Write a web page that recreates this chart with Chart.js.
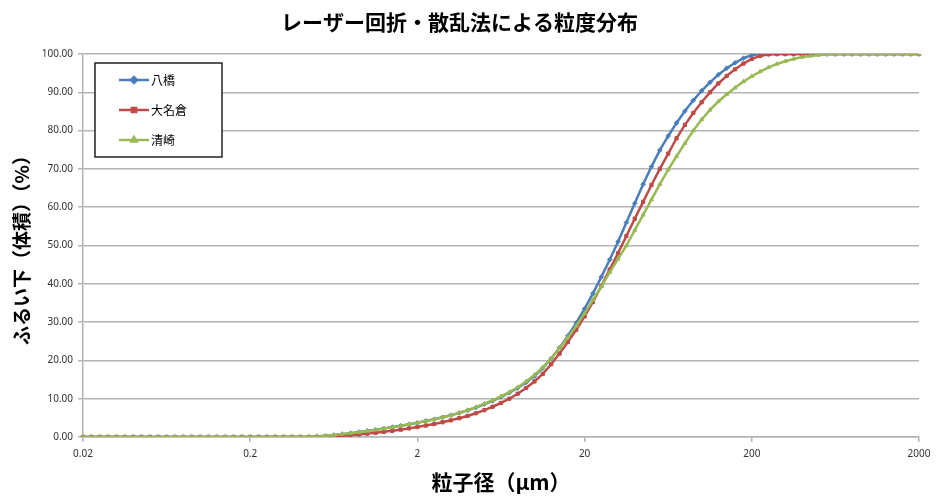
<!DOCTYPE html>
<html>
<head>
<meta charset="utf-8">
<script src="https://cdn.jsdelivr.net/npm/chart.js@4.4.1/dist/chart.umd.min.js"></script>
<style>
html, body { margin: 0; padding: 0; background: #fff; }
#wrap { width: 938px; height: 500px; }
</style>
</head>
<body>
<div id="wrap"><canvas id="chart"></canvas></div>
<script>
// particle size channels (µm), 20 per decade
const sizes = [
  0.02, 0.0224, 0.0252, 0.0283, 0.0317, 0.0356, 0.0399, 0.0448, 0.0502, 0.0564,
  0.0632, 0.0708, 0.0796, 0.0893, 0.1002, 0.1125, 0.1262, 0.1416, 0.1589, 0.1783,
  0.2, 0.224, 0.252, 0.283, 0.317, 0.356, 0.399, 0.448, 0.502, 0.564,
  0.632, 0.708, 0.796, 0.893, 1.002, 1.125, 1.262, 1.416, 1.589, 1.783,
  2, 2.24, 2.52, 2.83, 3.17, 3.56, 3.99, 4.48, 5.02, 5.64,
  6.32, 7.08, 7.96, 8.93, 10.02, 11.25, 12.62, 14.16, 15.89, 17.83,
  20, 22.4, 25.2, 28.3, 31.7, 35.6, 39.9, 44.8, 50.2, 56.4,
  63.2, 70.8, 79.6, 89.3, 100.2, 112.5, 126.2, 141.6, 158.9, 178.3,
  200, 224, 252, 283, 317, 356, 399, 448, 502, 564,
  632, 708, 796, 893, 1002, 1125, 1262, 1416, 1589, 1783,
  2000
];

const seriesNames = ['八橋', '大名倉', '清崎'];

const yatsuhashi = [
  0, 0, 0, 0, 0, 0, 0, 0, 0, 0,
  0, 0, 0, 0, 0, 0, 0, 0, 0, 0,
  0, 0, 0, 0, 0, 0, 0, 0.05, 0.15, 0.3,
  0.5, 0.75, 1.0, 1.3, 1.6, 1.9, 2.25, 2.6, 2.95, 3.35,
  3.75, 4.2, 4.65, 5.15, 5.7, 6.3, 6.95, 7.7, 8.55, 9.45,
  10.45, 11.55, 12.8, 14.25, 15.9, 18.0, 20.5, 23.3, 26.4, 29.8,
  33.5, 37.5, 41.8, 46.3, 51.0, 56.0, 61.0, 66.0, 70.6, 74.9,
  78.6, 82.0, 85.1, 87.9, 90.4, 92.6, 94.6, 96.3, 97.7, 98.9,
  99.7, 100, 100, 100, 100, 100, 100, 100, 100, 100,
  100, 100, 100, 100, 100, 100, 100, 100, 100, 100,
  100
];

const onagura = [
  0, 0, 0, 0, 0, 0, 0, 0, 0, 0,
  0, 0, 0, 0, 0, 0, 0, 0, 0, 0,
  0, 0, 0, 0, 0, 0, 0, 0, 0.05, 0.12,
  0.22, 0.35, 0.5, 0.68, 0.88, 1.1, 1.35, 1.62, 1.92, 2.25,
  2.6, 3.0, 3.4, 3.85, 4.35, 4.9, 5.5, 6.2, 7.0, 7.9,
  8.9, 10.0, 11.3, 12.8, 14.5, 16.5, 19.0, 21.8, 24.8, 28.0,
  31.5, 35.3, 39.4, 43.7, 48.0, 52.5, 57.0, 61.4, 65.8, 70.0,
  74.0, 78.0, 81.5, 84.6, 87.4, 90.0, 92.3, 94.3, 96.0, 97.5,
  98.7, 99.5, 99.9, 100, 100, 100, 100, 100, 100, 100,
  100, 100, 100, 100, 100, 100, 100, 100, 100, 100,
  100
];

const kiyosaki = [
  0, 0, 0, 0, 0, 0, 0, 0, 0, 0,
  0, 0, 0, 0, 0, 0, 0, 0, 0, 0,
  0, 0, 0, 0, 0, 0, 0, 0.05, 0.15, 0.3,
  0.5, 0.75, 1.0, 1.25, 1.55, 1.85, 2.2, 2.55, 2.9, 3.3,
  3.7, 4.15, 4.6, 5.1, 5.65, 6.3, 7.0, 7.8, 8.7, 9.6,
  10.6, 11.7, 13.0, 14.5, 16.2, 18.2, 20.5, 23.2, 26.0, 29.0,
  32.3, 35.8, 39.3, 43.0, 46.5, 50.0, 54.0, 58.0, 62.0, 66.0,
  69.8, 73.3, 76.7, 80.0, 82.9, 85.4, 87.6, 89.5, 91.2, 92.8,
  94.2, 95.4, 96.5, 97.4, 98.1, 98.7, 99.2, 99.5, 99.75, 99.9,
  100, 100, 100, 100, 100, 100, 100, 100, 100, 100,
  100
];

const xTickSizes = [0.02, 0.2, 2, 20, 200, 2000];

const jpFont = "'Noto Sans CJK JP', 'Noto Sans', sans-serif";
const tickFont = { family: "'Noto Sans', 'DejaVu Sans', sans-serif", size: 10 };
const gridColor = '#b4b4b4';

// Excel-style boxed legend inside the plot
const boxLegend = {
  id: 'boxLegend',
  afterDraw(chart) {
    const ctx = chart.ctx;
    const area = chart.chartArea;
    const x = area.left + 12, y = area.top + 9, w = 127, h = 94;
    ctx.save();
    ctx.fillStyle = '#fff';
    ctx.fillRect(x, y, w, h);
    ctx.strokeStyle = '#222';
    ctx.lineWidth = 1.5;
    ctx.strokeRect(x, y, w, h);
    chart.data.datasets.forEach((ds, i) => {
      const rowY = y + 17 + i * 30;
      ctx.strokeStyle = ds.borderColor;
      ctx.lineWidth = 2.5;
      ctx.beginPath();
      ctx.moveTo(x + 24, rowY);
      ctx.lineTo(x + 54, rowY);
      ctx.stroke();
      ctx.fillStyle = ds.backgroundColor;
      Chart.helpers.drawPoint(ctx, {
        pointStyle: ds.pointStyle, radius: 3, rotation: 0, borderWidth: 1
      }, x + 39, rowY);
      ctx.fillStyle = '#000';
      ctx.font = '12px ' + jpFont;
      ctx.textBaseline = 'middle';
      ctx.textAlign = 'left';
      ctx.fillText(ds.label, x + 56, rowY);
    });
    ctx.restore();
  }
};

const ctx = document.getElementById('chart').getContext('2d');
new Chart(ctx, {
  type: 'line',
  data: {
    labels: sizes,
    datasets: [{
      label: seriesNames[0],
      data: yatsuhashi,
      borderColor: '#4a7ebb',
      backgroundColor: '#4a7ebb',
      pointStyle: 'rectRot',
      order: 3
    }, {
      label: seriesNames[1],
      data: onagura,
      borderColor: '#be4b48',
      backgroundColor: '#be4b48',
      pointStyle: 'rect',
      order: 2
    }, {
      label: seriesNames[2],
      data: kiyosaki,
      borderColor: '#98b954',
      backgroundColor: '#98b954',
      pointStyle: 'triangle',
      order: 1
    }]
  },
  options: {
    responsive: true,
    maintainAspectRatio: false,
    animation: false,
    devicePixelRatio: 1,
    elements: {
      line: { borderWidth: 2.5, tension: 0 },
      point: { radius: 2.3, borderWidth: 1, hoverRadius: 2.3 }
    },
    layout: { padding: { left: 0, right: 19, top: 0, bottom: 0 }, autoPadding: false },
    plugins: {
      legend: { display: false },
      tooltip: { enabled: false },
      title: {
        display: true,
        text: 'レーザー回折・散乱法による粒度分布',
        color: '#000',
        font: { family: jpFont, size: 21, weight: 'bold', lineHeight: 1.2 },
        padding: { top: 9.5, bottom: 19.3 }
      }
    },
    scales: {
      x: {
        type: 'category',
        afterBuildTicks(scale) {
          scale.ticks = scale.ticks.filter(t => xTickSizes.includes(sizes[t.value]));
        },
        afterFit(scale) { scale.height = 63; },
        ticks: {
          autoSkip: false,
          maxRotation: 0,
          color: '#333',
          font: tickFont,
          padding: 6,
          callback: (value) => String(sizes[value])
        },
        grid: { drawOnChartArea: false, tickLength: 5, color: gridColor, lineWidth: 1.5 },
        border: { color: gridColor, width: 1.5 },
        title: {
          display: true,
          text: '粒子径（μm）',
          color: '#000',
          font: { family: jpFont, size: 21, weight: 'bold', lineHeight: 1.2 },
          padding: { top: 0, bottom: 5 }
        }
      },
      y: {
        min: 0,
        max: 100,
        afterFit(scale) { scale.width = 83; },
        ticks: {
          stepSize: 10,
          color: '#333',
          font: tickFont,
          padding: 5,
          callback: (value) => value.toFixed(2)
        },
        grid: { color: gridColor, lineWidth: 1.5, tickLength: 5 },
        border: { color: gridColor, width: 1.5 },
        title: {
          display: true,
          text: 'ふるい下（体積）（%）',
          color: '#000',
          font: { family: jpFont, size: 19, weight: 'bold', lineHeight: 1.2 },
          padding: { top: 10, bottom: 0 }
        }
      }
    }
  },
  plugins: [boxLegend]
});
</script>
</body>
</html>
